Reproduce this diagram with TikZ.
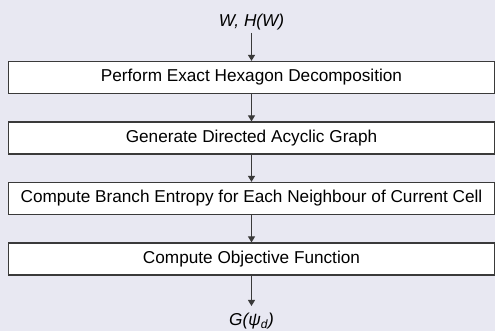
\documentclass[tikz,border=0pt]{standalone}
\usepackage{fontspec}
\setmainfont{Liberation Sans}
\usetikzlibrary{arrows.meta}
\definecolor{bgcol}{HTML}{E8E8F2}
\definecolor{edgecol}{HTML}{3A3A3A}
\tikzset{
  stepbox/.style={draw=edgecol, line width=1.2pt, fill=white, minimum width=486pt, minimum height=32pt, inner sep=0pt, font=\fontsize{17.2}{20}\selectfont},
  flowarrow/.style={draw=edgecol, line width=1.1pt, -{Triangle[length=6pt,width=7pt]}},
  lbl/.style={font=\fontsize{17.2}{20}\selectfont\itshape, inner sep=0pt, anchor=base}
}
\begin{document}
\begin{tikzpicture}[x=1pt,y=1pt]
\fill[bgcol] (0,0) rectangle (495,331);
\useasboundingbox (0,0) rectangle (495,331);
\node[lbl] (in) at (251.5,304) {W, H(W)};
\coordinate (intop) at (251.5,298);
\node[stepbox] (b1) at (251.5,253.5) {Perform Exact Hexagon Decomposition};
\node[stepbox] (b2) at (251.5,193) {Generate Directed Acyclic Graph};
\node[stepbox] (b3) at (251.5,132.5) {Compute Branch Entropy for Each Neighbour of Current Cell};
\node[stepbox] (b4) at (251.5,72) {Compute Objective Function};
\coordinate (outend) at (251.5,25);
\node[lbl] (out) at (251.5,5.5) {G(ψ\textsubscript{d})};
\draw[flowarrow] (intop) -- (b1.north);
\draw[flowarrow] (b1.south) -- (b2.north);
\draw[flowarrow] (b2.south) -- (b3.north);
\draw[flowarrow] (b3.south) -- (b4.north);
\draw[flowarrow] (b4.south) -- (outend);
\end{tikzpicture}
\end{document}
